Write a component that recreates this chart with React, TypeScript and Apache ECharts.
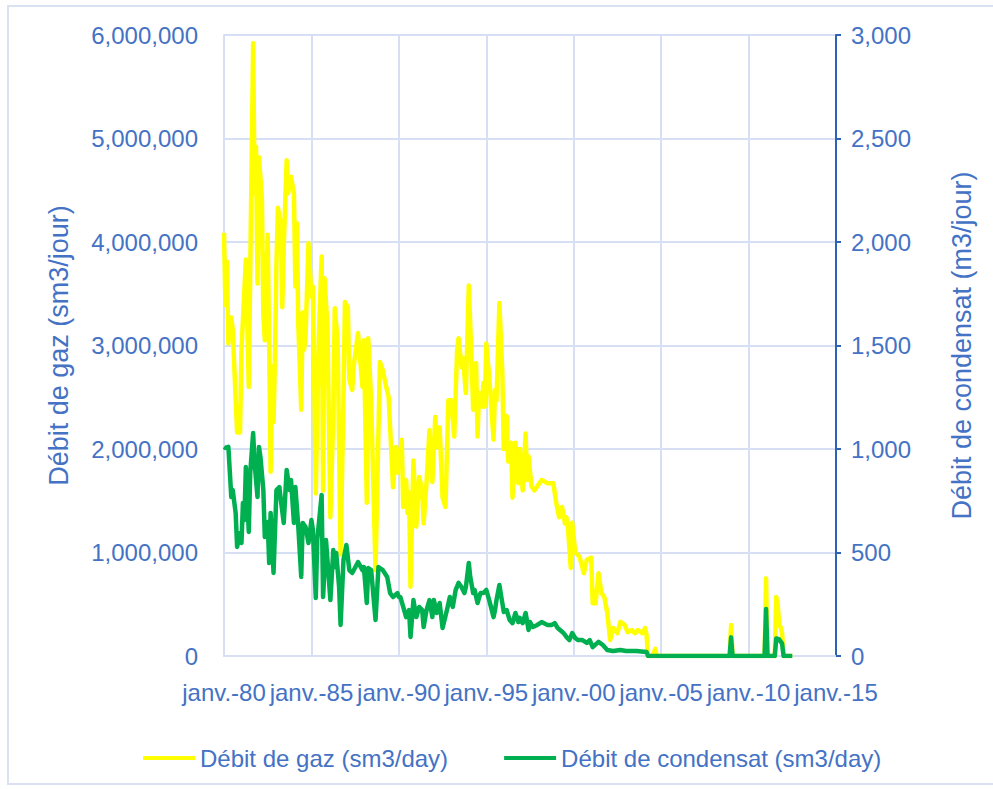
import React, { useEffect, useRef } from "react";
import * as echarts from "echarts";

const xTickLabels = ["janv.-80", "janv.-85", "janv.-90", "janv.-95", "janv.-00", "janv.-05", "janv.-10", "janv.-15"];

const gasDates = [
  "1980-01","1980-02","1980-03","1980-04","1980-06","1980-07","1980-10","1980-12","1981-01","1981-04","1981-06","1981-09","1981-10","1981-11","1981-12",
  "1982-01","1982-03","1982-04","1982-05","1982-06","1982-07","1982-08","1982-09","1982-10","1982-11","1982-12",
  "1983-01","1983-02","1983-04","1983-05","1983-06","1983-08","1983-09","1983-11",
  "1984-01","1984-02","1984-03","1984-04","1984-05","1984-06","1984-07","1984-08","1984-09","1984-11",
  "1985-01","1985-02","1985-04","1985-06","1985-08","1985-09","1985-10","1985-12",
  "1986-02","1986-04","1986-05","1986-07","1986-09","1986-11","1986-12",
  "1987-02","1987-03","1987-05","1987-06","1987-09","1987-12",
  "1988-01","1988-03","1988-04","1988-06","1988-09","1988-12",
  "1989-02","1989-04","1989-06","1989-09","1989-11","1989-12",
  "1990-03","1990-04","1990-06","1990-07","1990-08","1990-09","1990-11",
  "1991-01","1991-03","1991-05","1991-06","1991-08","1991-10","1991-12",
  "1992-02","1992-03","1992-05","1992-07","1992-09","1992-11",
  "1993-01","1993-03","1993-05","1993-06","1993-08","1993-09","1993-11",
  "1994-01","1994-03","1994-04","1994-06","1994-07","1994-08","1994-10","1994-11","1994-12",
  "1995-01","1995-03","1995-06","1995-07","1995-08","1995-10","1995-12",
  "1996-01","1996-03","1996-04","1996-06","1996-07","1996-09","1996-11","1996-12",
  "1997-02","1997-04","1997-05","1997-06","1997-08","1997-10","1997-12",
  "1998-03","1998-07","1998-11",
  "1999-01","1999-03","1999-05","1999-07","1999-08","1999-09","1999-11","1999-12",
  "2000-02","2000-05","2000-08","2000-10",
  "2001-01","2001-02","2001-04","2001-06","2001-08","2001-10","2001-12",
  "2002-02","2002-04","2002-07","2002-09","2002-12",
  "2003-02","2003-05","2003-07","2003-09","2003-12",
  "2004-02","2004-03","2004-04","2004-07","2004-09","2004-10",
  "2008-12","2009-01","2009-02",
  "2010-12","2011-01","2011-02",
  "2011-07","2011-08","2011-09","2011-10","2011-11","2011-12","2012-01","2012-07"
];
const gasValues = [
  4090000,3390000,3810000,3020000,3270000,3150000,2160000,2160000,2960000,3830000,2600000,5920000,4470000,4920000,3600000,
  4820000,4430000,3300000,3050000,3600000,4070000,3000000,1780000,2800000,2260000,2900000,
  3800000,4330000,4180000,3370000,3950000,4790000,4470000,4630000,
  4470000,3570000,4180000,3200000,2800000,2380000,3320000,2960000,3100000,3990000,
  3470000,3570000,1570000,3040000,3860000,1600000,3650000,3180000,
  1340000,2320000,3360000,3050000,980000,2500000,3420000,
  3370000,2670000,2570000,2800000,3120000,2600000,
  3050000,1480000,3070000,2460000,830000,2840000,
  2760000,2620000,2500000,1630000,2020000,1770000,
  2090000,1440000,1700000,1380000,1580000,670000,1890000,
  1250000,1730000,1600000,1280000,1680000,2180000,1680000,
  2310000,2020000,2210000,1530000,1440000,2470000,
  2470000,2120000,2960000,3070000,2790000,2880000,2540000,
  3580000,2830000,2380000,2830000,2120000,2540000,2410000,2640000,2410000,
  3020000,2700000,2090000,2570000,2470000,3410000,2740000,
  2000000,2320000,1880000,2060000,1530000,2060000,1670000,2000000,
  1600000,2150000,1700000,1930000,1640000,1600000,1640000,
  1700000,1670000,1670000,
  1480000,1340000,1440000,1280000,1340000,1250000,850000,1290000,
  1000000,960000,800000,930000,
  950000,510000,510000,800000,610000,570000,420000,
  155000,270000,220000,330000,300000,
  230000,250000,220000,250000,220000,
  270000,200000,0,0,70000,0,
  0,300000,0,
  0,750000,0,
  0,570000,500000,300000,280000,220000,0,0
];

const condDates = [
  "1980-01","1980-02","1980-04","1980-06","1980-07","1980-09","1980-10","1980-12",
  "1981-01","1981-02","1981-03","1981-04","1981-06","1981-07","1981-09","1981-10","1981-12",
  "1982-01","1982-02","1982-04","1982-05","1982-07","1982-08","1982-09","1982-11",
  "1983-01","1983-03","1983-04","1983-06","1983-08","1983-10","1983-11",
  "1984-01","1984-02","1984-04","1984-06","1984-07","1984-09","1984-11",
  "1985-01","1985-02","1985-04","1985-05","1985-08","1985-09","1985-11","1985-12",
  "1986-02","1986-04","1986-05","1986-06","1986-08","1986-09","1986-11",
  "1987-01","1987-03","1987-05","1987-09","1987-12",
  "1988-01","1988-03","1988-04","1988-06","1988-09","1988-11",
  "1989-02","1989-05","1989-07","1989-09","1989-12",
  "1990-01","1990-02","1990-04","1990-06","1990-08","1990-09","1990-11",
  "1991-01","1991-03","1991-05","1991-06","1991-08","1991-10","1991-12",
  "1992-01","1992-03","1992-05","1992-07","1992-10","1992-12",
  "1993-02","1993-04","1993-06","1993-08","1993-10","1993-11",
  "1994-01","1994-02","1994-04","1994-05","1994-07","1994-09","1994-11",
  "1995-01","1995-03","1995-06","1995-07","1995-08","1995-10","1995-12",
  "1996-01","1996-03","1996-05","1996-07","1996-09","1996-11","1996-12",
  "1997-02","1997-04","1997-06","1997-07","1997-09","1997-12",
  "1998-03","1998-07","1998-10","1998-12",
  "1999-02","1999-06","1999-08","1999-10","1999-12",
  "2000-02","2000-04","2000-07","2000-10","2000-12",
  "2001-02","2001-06","2001-09","2001-12",
  "2002-04","2002-09","2003-01","2003-08","2004-03","2004-04",
  "2008-12","2009-01","2009-02",
  "2010-12","2011-01","2011-02",
  "2011-07","2011-08","2011-10","2011-12","2012-01","2012-07"
];
const condValues = [
  1010,1005,1010,768,802,691,527,594,
  546,739,657,913,599,884,1077,932,768,
  1010,961,802,575,647,449,691,401,
  802,816,754,643,899,802,850,
  643,816,623,382,643,623,546,
  657,609,280,560,778,285,560,464,
  270,512,430,498,333,150,464,
  536,415,401,454,415,
  430,256,425,415,174,430,
  415,382,304,285,304,
  285,285,237,188,222,92,270,
  188,237,222,140,222,270,188,
  270,208,256,135,222,285,
  237,319,353,333,304,333,
  449,382,304,319,256,304,304,
  319,270,188,222,270,343,256,
  213,222,174,159,208,164,184,
  159,208,126,164,140,150,
  164,150,150,159,
  135,111,92,77,111,
  87,77,77,63,77,
  43,68,53,29,
  24,29,24,24,19,0,
  0,90,0,
  0,227,0,
  0,85,80,60,0,0
];

const toYear = (d: string) => {
  const [y, m] = d.split("-").map(Number);
  return y + (m - 1) / 12;
};

const fmt = (v: number) => Math.round(v).toLocaleString("en-US");

const TEXT = "#4472C4";
const GRID = "#D6DFF3";
const FONT = "'Liberation Sans', Arial, sans-serif";

export default function App() {
  const ref = useRef<HTMLDivElement>(null);
  useEffect(() => {
    if (!ref.current) return;
    const chart = echarts.init(ref.current, null, { renderer: "svg" });
    const gasData = gasDates.map((d, i) => [toYear(d), gasValues[i]]);
    const condData = condDates.map((d, i) => [toYear(d), condValues[i]]);
    chart.setOption({
      animation: false,
      backgroundColor: "#ffffff",
      textStyle: { fontFamily: FONT },
      graphic: [
        {
          type: "rect",
          shape: { x: 8, y: 6, width: 990, height: 778 },
          style: { fill: "none", stroke: "#D9E1F2", lineWidth: 2 },
          silent: true,
        },
      ],
      grid: { left: 224, right: 157, top: 35, bottom: 133, containLabel: false },
      legend: {
        left: 143,
        top: 746,
        padding: 0,
        icon: "rect",
        itemWidth: 52,
        itemHeight: 4,
        itemGap: 56,
        textStyle: { color: TEXT, fontSize: 24, fontFamily: FONT },
        data: ["Débit de gaz (sm3/day)", "Débit de condensat (sm3/day)"],
      },
      xAxis: {
        type: "value",
        min: 1980,
        max: 2015,
        interval: 5,
        axisLine: { show: true, lineStyle: { color: GRID, width: 2 } },
        axisTick: { show: false },
        splitLine: { show: true, lineStyle: { color: GRID, width: 2 } },
        axisLabel: {
          color: TEXT,
          fontSize: 24,
          fontFamily: FONT,
          margin: 24,
          formatter: (v: number) => xTickLabels[Math.round((v - 1980) / 5)] ?? "",
        },
      },
      yAxis: [
        {
          type: "value",
          min: 0,
          max: 6000000,
          interval: 1000000,
          position: "left",
          name: "Débit de gaz (sm3/jour)",
          nameLocation: "middle",
          nameGap: 152,
          nameTextStyle: { color: TEXT, fontSize: 27, fontFamily: FONT },
          axisLine: { show: true, lineStyle: { color: GRID, width: 2 } },
          axisTick: { show: false },
          splitLine: { show: true, lineStyle: { color: GRID, width: 2 } },
          axisLabel: { color: TEXT, fontSize: 24, fontFamily: FONT, margin: 26, formatter: fmt },
        },
        {
          type: "value",
          min: 0,
          max: 3000,
          interval: 500,
          position: "right",
          name: "Débit de condensat (m3/jour)",
          nameLocation: "middle",
          nameGap: 112,
          nameRotate: 90,
          nameTextStyle: { color: TEXT, fontSize: 27, fontFamily: FONT },
          axisLine: { show: true, lineStyle: { color: "#2E62B5", width: 2 } },
          axisTick: { show: true, length: 5, lineStyle: { color: "#2E62B5", width: 2 } },
          splitLine: { show: false },
          axisLabel: { color: TEXT, fontSize: 24, fontFamily: FONT, margin: 15, formatter: fmt },
        },
      ],
      series: [
        {
          name: "Débit de gaz (sm3/day)",
          type: "line",
          yAxisIndex: 0,
          data: gasData,
          showSymbol: false,
          symbol: "none",
          lineStyle: { color: "#FFFF00", width: 4.5, join: "round" },
          itemStyle: { color: "#FFFF00" },
        },
        {
          name: "Débit de condensat (sm3/day)",
          type: "line",
          yAxisIndex: 1,
          data: condData,
          showSymbol: false,
          symbol: "none",
          lineStyle: { color: "#00B050", width: 4.5, join: "round" },
          itemStyle: { color: "#00B050" },
        },
      ],
    });
    return () => chart.dispose();
  }, []);
  return (
    <div
      ref={ref}
      style={{ position: "fixed", left: 0, top: 0, width: 993, height: 789, background: "#fff" }}
    />
  );
}
